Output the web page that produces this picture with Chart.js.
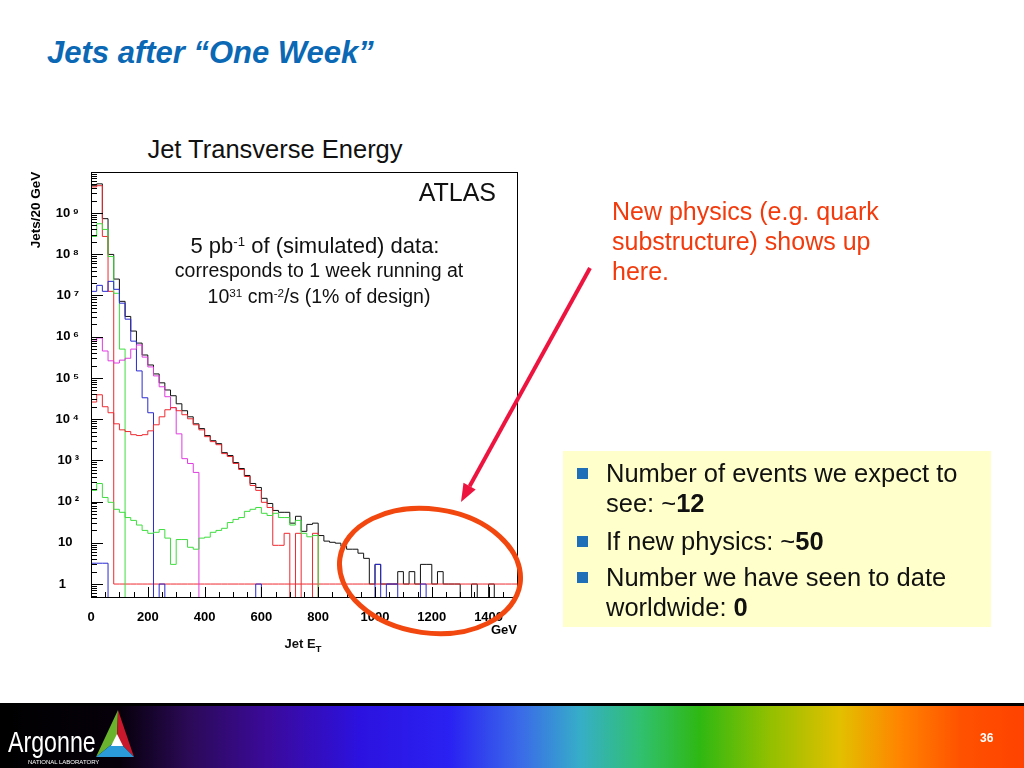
<!DOCTYPE html>
<html>
<head>
<meta charset="utf-8">
<script src="https://cdn.jsdelivr.net/npm/chart.js@4.4.0/dist/chart.umd.min.js"></script>
<style>
  html, body { margin: 0; padding: 0; }
  body { width: 1024px; height: 768px; position: relative; overflow: hidden; background: #fff;
         font-family: "Liberation Sans", Arial, sans-serif; }
  .t { position: absolute; white-space: nowrap; line-height: 1; }
  .c { transform: translateX(-50%); }
  sup { font-size: 0.6em; position: relative; top: -0.55em; line-height: 0; vertical-align: baseline; }
  sub { font-size: 0.75em; position: relative; top: 0.45em; line-height: 0; vertical-align: baseline; }
  #plot { position: absolute; left: 0; top: 160px; width: 540px; height: 500px; }
  #box { position: absolute; left: 563px; top: 451px; width: 428px; height: 176px; background: #ffffcc; }
  .sq { position: absolute; left: 577px; width: 11px; height: 11px; background: #1e6fb8; }
  .bt { font-size: 25.5px; color: #111; left: 606px; }
  .red { font-size: 25px; color: #f23a0c; left: 612px; }
  #bar { position: absolute; left: 0; top: 703px; width: 1024px; height: 62px;
         border-top: 3px solid #000;
         background: linear-gradient(to right, #000 0px, #06000a 120px, #2c0a58 190px, #3b0a9c 270px,
           #2c12e0 360px, #2a22f2 450px, #3a6ae8 520px, #36aec8 580px, #30c070 640px, #2fb812 700px,
           #92c000 770px, #e2c000 840px, #ff8400 900px, #ff5200 960px, #ff4200 1024px); }
</style>
</head>
<body>
<div class="t" style="left:47px; top:37px; font-size:31px; font-weight:bold; font-style:italic; color:#0a68b4;">Jets after “One Week”</div>

<div class="t c" style="left:275px; top:137px; font-size:25.5px; color:#111;">Jet Transverse Energy</div>

<div id="plot"><canvas id="out"></canvas></div>

<div class="t" style="right:528px; top:180px; font-size:25px; color:#111;">ATLAS</div>
<div class="t c" style="left:315px; top:235px; font-size:22px; color:#111;">5 pb<sup>-1</sup> of (simulated) data:</div>
<div class="t c" style="left:319px; top:261px; font-size:19.5px; color:#111;">corresponds to 1 week running at</div>
<div class="t c" style="left:319px; top:287px; font-size:19.5px; color:#111;">10<sup>31</sup> cm<sup>-2</sup>/s (1% of design)</div>
<div class="t c" style="left:303px; top:637px; font-size:13px; font-weight:bold; color:#111;">Jet E<sub>T</sub></div>

<svg style="position:absolute; left:0; top:0;" width="1024" height="768">
  <g transform="rotate(8 430 571)">
    <ellipse cx="430" cy="571" rx="91" ry="62" fill="none" stroke="#f2480f" stroke-width="5"/>
  </g>
  <line x1="590" y1="268" x2="469.6" y2="486.2" stroke="#ee1440" stroke-width="4"/>
  <polygon points="461,502 475.7,489.6 463.5,482.8" fill="#ee1440"/>
</svg>

<div class="t red" style="top:199px;">New physics (e.g. quark</div>
<div class="t red" style="top:229px;">substructure) shows up</div>
<div class="t red" style="top:259px;">here.</div>

<div id="box"></div>
<div class="sq" style="top:468px;"></div>
<div class="sq" style="top:536px;"></div>
<div class="sq" style="top:572px;"></div>
<div class="t bt" style="top:461px;">Number of events we expect to</div>
<div class="t bt" style="top:491px;">see: ~<b>12</b></div>
<div class="t bt" style="top:529px;">If new physics: ~<b>50</b></div>
<div class="t bt" style="top:565px;">Number we have seen to date</div>
<div class="t bt" style="top:595px;">worldwide: <b>0</b></div>

<div id="bar"></div>
<svg style="position:absolute; left:0; top:700px;" width="1024" height="68">
  <polygon points="96,57 118,10 117,40" fill="#6ab42d"/>
  <polygon points="118,10 134,57 117,40" fill="#c8182c"/>
  <polygon points="96,57 134,57 117,40" fill="#2a9ad8"/>
  <polygon points="111,46 123,46 117,34" fill="#fff"/>
</svg>
<div class="t" style="left:8px; top:728px; font-size:29px; color:#fff; transform:scaleX(0.8); transform-origin:left top;">Argonne</div>
<div class="t" style="left:28px; top:759px; font-size:6px; color:#fff;">NATIONAL LABORATORY</div>
<div class="t" style="left:980px; top:732px; font-size:12px; font-weight:bold; color:#fff;">36</div>

<script>
// histogram binning: 75 bins of 20 GeV
const NBINS = 75;
const BIN_WIDTH = 20;
const X_MAX = 1500;
const binLow = Array.from({ length: NBINS }, (_, i) => i * BIN_WIDTH);

const xTickValues = [0, 200, 400, 600, 800, 1000, 1200, 1400];
const yTickValues = [1, 10, 1e2, 1e3, 1e4, 1e5, 1e6, 1e7, 1e8, 1e9];

// total (black)
const total = [
  4.6e9, 5.1e9, 7.3e8, 9.9e7, 2.5e7, 7.2e6, 3.1e6, 1.37e6, 7.0e5, 3.6e5,
  2.06e5, 1.25e5, 7.6e4, 5.1e4, 3.7e4, 2.36e4, 1.6e4, 1.14e4, 7.7e3, 5.9e3,
  4.0e3, 3.0e3, 2.55e3, 1.54e3, 1.31e3, 885, 634, 430, 275, 220,
  120, 90, 61, 55, 55, 30, 44, 19, 28, 30,
  15, 11, 10.3, 9.8, 8.3, 7.0, 7.0, 5.6, 4.2, 1,
  3, 1, 1, 1, 2, 1, 2, 1, 3, 3,
  1, 2, 1, 1, 1, 0, 0, 1, 0, 0,
  1, 0, 0, 0, 0
];
// lowest slice (red)
const redLow = [
  4.3e9, 4.6e9, 2.7e8, 1.26e7, 1, 1, 1, 1, 1, 1,
  1, 1, 1, 1, 1, 1, 1, 1, 1, 1,
  1, 1, 1, 1, 1, 1, 1, 1, 1, 1,
  1, 1, 1, 1, 1, 1, 1, 1, 1, 1,
  1, 1, 1, 1, 1, 1, 1, 1, 1, 1,
  1, 1, 1, 1, 1, 1, 1, 1, 1, 1,
  1, 1, 1, 1, 1, 1, 1, 1, 1, 1,
  1, 1, 1, 1, 1
];
const greenLow = [
  2.7e8, 5.5e8, 4.0e8, 8.8e7, 1.13e7, 5.0e5, 0, 0, 0, 0,
  0, 0, 0, 0, 0, 0, 0, 0, 0, 0,
  0, 0, 0, 0, 0, 0, 0, 0, 0, 0,
  0, 0, 0, 0, 0, 0, 0, 0, 0, 0,
  0, 0, 0, 0, 0, 0, 0, 0, 0, 0,
  0, 0, 0, 0, 0, 0, 0, 0, 0, 0,
  0, 0, 0, 0, 0, 0, 0, 0, 0, 0,
  0, 0, 0, 0, 0
];
const blueLow = [
  1.26e7, 1.76e7, 1.26e7, 2.2e7, 1.41e7, 6.5e6, 2.66e6, 7.8e5, 1.48e5, 3.3e4,
  1.43e4, 0, 0, 0, 0, 0, 0, 0, 0, 0,
  0, 0, 0, 0, 0, 0, 0, 0, 0, 0,
  0, 0, 0, 0, 0, 0, 0, 0, 0, 0,
  0, 0, 0, 0, 0, 0, 0, 0, 0, 0,
  0, 0, 0, 0, 0, 0, 0, 0, 0, 0,
  0, 0, 0, 0, 0, 0, 0, 0, 0, 0,
  0, 0, 0, 0, 0
];
const magenta = [
  7.8e5, 9.3e5, 4.5e5, 2.6e5, 2.3e5, 2.7e5, 3.0e5, 5.0e5, 6.3e5, 3.2e5,
  1.85e5, 1.12e5, 6.1e4, 3.5e4, 1.9e4, 4.4e3, 1.1e3, 840, 510, 0,
  0, 0, 0, 0, 0, 0, 0, 0, 0, 0,
  0, 0, 0, 0, 0, 0, 0, 0, 0, 0,
  0, 0, 0, 0, 0, 0, 0, 0, 0, 0,
  0, 0, 0, 0, 0, 0, 0, 0, 0, 0,
  0, 0, 0, 0, 0, 0, 0, 0, 0, 0,
  0, 0, 0, 0, 0
];
const redHigh = [
  2.6e4, 3.9e4, 2.0e4, 1.43e4, 7.7e3, 5.5e3, 5.0e3, 4.2e3, 4.0e3, 4.2e3,
  5.2e3, 7.3e3, 1.14e4, 1.69e4, 1.9e4, 1.6e4, 1.28e4, 1.02e4, 7.3e3, 5.5e3,
  3.76e3, 2.85e3, 2.4e3, 1.46e3, 1.24e3, 840, 600, 406, 246, 187,
  96, 72, 8.7, 8.7, 17, 0, 17, 0, 0, 17,
  0, 0, 0, 0, 0, 0, 0, 0, 0, 0,
  0, 0, 0, 0, 0, 0, 0, 0, 0, 0,
  0, 0, 0, 0, 0, 0, 0, 0, 0, 0,
  0, 0, 0, 0, 0
];
const greenHigh = [
  187, 275, 126, 96, 65, 55, 41, 35, 27, 20,
  17, 18, 21, 13, 3, 12, 12, 7.8, 7.0, 13,
  13.7, 18, 20, 22.5, 31, 37, 41, 58, 65, 72,
  52, 46, 52, 41, 41, 27, 35, 17, 14, 15,
  0, 0, 0, 0, 0, 0, 0, 0, 0, 0,
  0, 0, 0, 0, 0, 0, 0, 0, 0, 0,
  0, 0, 0, 0, 0, 0, 0, 0, 0, 0,
  0, 0, 0, 0, 0
];
const blueHigh = [
  3.2, 3.2, 3.2, 0, 0, 0, 0, 0, 0, 0,
  0, 0, 1, 0, 0, 0, 0, 0, 0, 0,
  0, 0, 0, 0, 0, 0, 0, 0, 0, 1,
  0, 0, 0, 0, 0, 0, 0, 0, 0, 0,
  0, 0, 0, 0, 0, 0, 0, 0, 0, 0,
  3, 0, 1, 1, 0, 0, 0, 0, 1, 0,
  0, 0, 0, 0, 0, 0, 0, 0, 0, 0,
  0, 0, 0, 0, 0
];

// empty bins go below the axis so only the vertical edges show (clipped)
const BELOW = 1e-3;
function histPoints(values) {
  const pts = values.map((v, i) => ({ x: binLow[i], y: v > 0 ? v : BELOW }));
  const last = values[values.length - 1];
  pts.push({ x: X_MAX, y: last > 0 ? last : BELOW });
  return pts;
}

function hist(label, values, color) {
  return {
    label: label,
    data: histPoints(values),
    borderColor: color,
    borderWidth: 1,
    pointRadius: 0,
    stepped: 'before',
    fill: false
  };
}

function supDigits(n) {
  const s = "⁰¹²³⁴⁵⁶⁷⁸⁹";
  return String(n).split("").map(d => s[+d]).join("");
}

// ROOT style frame and inner tick marks
const rootFrame = {
  id: "rootFrame",
  afterDatasetsDraw(chart) {
    const { ctx, chartArea: a, scales } = chart;
    const x = scales.x, y = scales.y;
    ctx.save();
    ctx.strokeStyle = "#000";
    ctx.lineWidth = 1;
    ctx.beginPath();
    for (let v = 50; v < X_MAX; v += 50) {
      const px = Math.round(x.getPixelForValue(v)) + 0.5;
      const len = v % 200 === 0 ? 10 : 5;
      ctx.moveTo(px, a.bottom);
      ctx.lineTo(px, a.bottom - len);
    }
    for (let d = -1; d < 10; d++) {
      for (let m = 1; m < 10; m++) {
        const v = m * Math.pow(10, d);
        if (v < y.min || v > y.max) continue;
        const py = Math.round(y.getPixelForValue(v)) + 0.5;
        ctx.moveTo(a.left, py);
        ctx.lineTo(a.left + (m === 1 ? 12 : 6), py);
      }
    }
    ctx.stroke();
    ctx.strokeRect(Math.round(a.left) + 0.5, Math.round(a.top) + 0.5,
                   Math.round(a.right - a.left), Math.round(a.bottom - a.top));
    ctx.restore();
  }
};

Chart.defaults.font.family = '"Liberation Sans", Arial, sans-serif';
Chart.defaults.color = "#000";

const canvasCtx = document.getElementById("out").getContext("2d");
const chartConfig = {
  type: "line",
  data: {
    datasets: [
      hist("J high (blue)", blueHigh, "#2a2ad0"),
      hist("J high (green)", greenHigh, "#3ede3e"),
      hist("J high (red)", redHigh, "#ee2a30"),
      hist("J mid (magenta)", magenta, "#e03ae0"),
      hist("J low (blue)", blueLow, "#2a2ad0"),
      hist("J low (green)", greenLow, "#3ede3e"),
      hist("J low (red)", redLow, "#ee2a30"),
      hist("Total", total, "#111111")
    ]
  },
  options: {
    responsive: true,
    maintainAspectRatio: false,
    animation: false,
    layout: { padding: { top: 10, right: 23, left: 0, bottom: 0 } },
    plugins: { legend: { display: false }, tooltip: { enabled: false } },
    scales: {
      x: {
        type: "linear",
        min: 0,
        max: X_MAX,
        grid: { display: false },
        border: { display: false },
        afterBuildTicks: s => { s.ticks = xTickValues.map(v => ({ value: v })); },
        afterFit: s => { s.height = 63; },
        ticks: { padding: 5, maxRotation: 0, autoSkip: false,
                 font: { size: 13, weight: "bold" }, callback: v => String(v) },
        title: { display: true, text: "GeV", align: "end",
                 font: { size: 13, weight: "bold" }, padding: { top: 0, bottom: 22 } }
      },
      y: {
        type: "logarithmic",
        min: 0.485,
        max: 1e10,
        grid: { display: false },
        border: { display: false },
        afterBuildTicks: s => { s.ticks = yTickValues.map(v => ({ value: v })); },
        afterFit: s => { s.width = 91; },
        ticks: {
          padding: 4,
          autoSkip: false,
          font: { size: 13, weight: "bold" },
          callback: v => {
            const e = Math.round(Math.log10(v));
            if (e === 0) return "1\u2003";
            if (e === 1) return "10\u2002";
            return "10\u2009" + supDigits(e);
          }
        },
        title: { display: true, text: "Jets/20 GeV", align: "end",
                 font: { size: 13.5, weight: "bold" }, padding: { top: 28, bottom: 0 } }
      }
    }
  },
  plugins: [rootFrame]
};

window.chart = new Chart(canvasCtx, chartConfig);
</script>
</body>
</html>
